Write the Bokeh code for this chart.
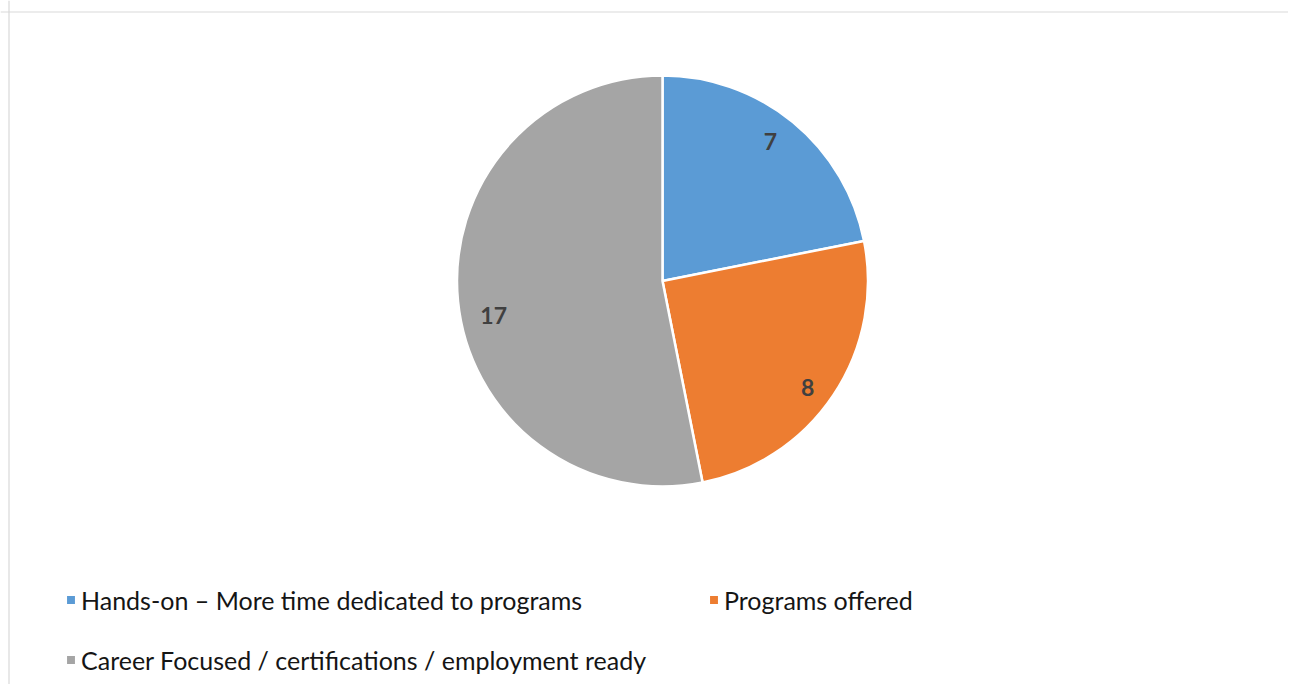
import math
from bokeh.plotting import figure
from bokeh.models import Range1d, ColumnDataSource, Legend, LegendItem, Span
from bokeh.core.properties import value
from bokeh.embed import file_html
from bokeh.resources import INLINE

categories = ["Hands-on \u2013 More time dedicated to programs",
              "Programs offered",
              "Career Focused / certifications / employment ready"]
counts = [7, 8, 17]
colors = ["#5B9BD5", "#ED7D31", "#A5A5A5"]

# label nudges (screen px) to mimic Excel's best-fit placement
label_dx = [-3, 0, 5]
label_dy = [-4, 9, 17]

W, H = 1288, 684
p = figure(width=W, height=H, output_backend="svg", toolbar_location=None,
           x_range=Range1d(0, W), y_range=Range1d(0, H), min_border=0)
p.axis.visible = False
p.grid.visible = False
p.outline_line_color = None
p.background_fill_color = "white"

# chart-area border (top and left visible in the frame)
p.add_layout(Span(location=H - 11.5, dimension="width", line_color="#d9d9d9", line_width=1.2))
p.add_layout(Span(location=8.5, dimension="height", line_color="#d9d9d9", line_width=1.2))

cx, cy, r = 662, H - 280.5, 205.5
total = sum(counts)
starts, ends, lx, ly, labels = [], [], [], [], []
cum = 0
for c in counts:
    a0 = math.pi / 2 - 2 * math.pi * (cum + c) / total
    a1 = math.pi / 2 - 2 * math.pi * cum / total
    starts.append(a0)
    ends.append(a1)
    mid = (a0 + a1) / 2
    lx.append(cx + 0.85 * r * math.cos(mid))
    ly.append(cy + 0.85 * r * math.sin(mid))
    labels.append(str(c))
    cum += c

renderers = []
for i in range(len(counts)):
    src = ColumnDataSource(dict(x=[cx], y=[cy], s=[starts[i]], e=[ends[i]]))
    rr = p.wedge(x="x", y="y", radius=r, start_angle="s", end_angle="e",
                 source=src, fill_color=colors[i], line_color="white", line_width=2.5)
    renderers.append(rr)

lsrc = ColumnDataSource(dict(x=lx, y=ly, t=labels, dx=label_dx, dy=label_dy))
p.text(x="x", y="y", text="t", x_offset="dx", y_offset="dy", source=lsrc,
       text_font=value("Lato"), text_font_style="bold",
       text_font_size="23px", text_color="#404040", text_align="center",
       text_baseline="middle")

common = dict(orientation="horizontal", glyph_width=13, glyph_height=13,
              label_standoff=4, label_text_font="Lato", label_text_font_size="25px",
              label_text_color="#151515", padding=0, margin=0, spacing=0,
              border_line_color=None, background_fill_alpha=0, label_height=25)

leg1 = Legend(items=[LegendItem(label=categories[0], renderers=[renderers[0]]),
                     LegendItem(label=categories[1], renderers=[renderers[1]])],
              location=(64, H - 602 - 12.5), label_width=643 - 13 - 4, **common)
leg2 = Legend(items=[LegendItem(label=categories[2], renderers=[renderers[2]])],
              location=(64, H - 662 - 12.5), **common)
p.add_layout(leg1, "center")
p.add_layout(leg2, "center")

open("out.html", "w").write(file_html(p, INLINE))
